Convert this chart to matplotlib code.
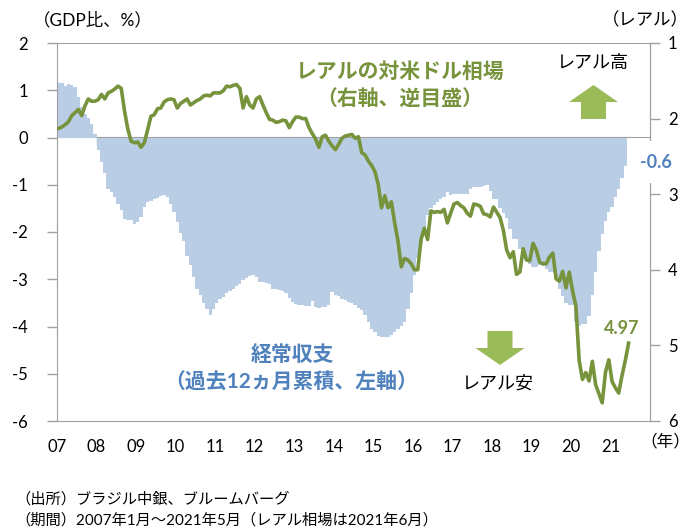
import numpy as np
import matplotlib.pyplot as plt
from matplotlib.patches import FancyArrow

plt.rcParams['font.family'] = ['Lato', 'Noto Sans CJK JP']
plt.rcParams['axes.unicode_minus'] = False

# current account, % of GDP, 12-month sum (2007-01 .. 2021-05)
ca_2007 = [1.16, 1.15, 1.10, 1.14, 1.12, 1.06, 0.85, 0.65, 0.50, 0.42, 0.28, 0.08]
ca_2008 = [-0.27, -0.52, -0.76, -1.08, -1.16, -1.25, -1.40, -1.54, -1.72, -1.74, -1.75, -1.84]
ca_2009 = [-1.79, -1.69, -1.47, -1.37, -1.35, -1.30, -1.28, -1.23, -1.22, -1.26, -1.40, -1.58]
ca_2010 = [-1.79, -2.03, -2.20, -2.50, -2.70, -2.96, -3.20, -3.34, -3.50, -3.62, -3.75, -3.62]
ca_2011 = [-3.51, -3.41, -3.37, -3.30, -3.25, -3.20, -3.15, -3.09, -3.02, -2.98, -2.94, -2.92]
ca_2012 = [-2.95, -3.06, -3.06, -3.08, -3.10, -3.20, -3.20, -3.22, -3.25, -3.30, -3.40, -3.48]
ca_2013 = [-3.52, -3.55, -3.55, -3.56, -3.56, -3.45, -3.58, -3.60, -3.59, -3.58, -3.55, -3.28]
ca_2014 = [-3.34, -3.36, -3.41, -3.43, -3.48, -3.50, -3.55, -3.60, -3.66, -3.75, -3.90, -4.05]
ca_2015 = [-4.12, -4.20, -4.22, -4.22, -4.22, -4.18, -4.12, -4.06, -3.98, -3.90, -3.62, -3.30]
ca_2016 = [-2.90, -2.55, -2.25, -1.95, -1.65, -1.50, -1.42, -1.37, -1.30, -1.26, -1.15, -1.22]
ca_2017 = [-1.20, -1.20, -1.20, -1.20, -1.20, -1.10, -1.05, -1.05, -1.05, -1.02, -1.00, -1.13]
ca_2018 = [-1.30, -1.30, -1.50, -1.60, -1.70, -1.93, -2.14, -2.14, -2.35, -2.53, -2.53, -2.67]
ca_2019 = [-2.74, -2.74, -2.70, -2.72, -2.78, -2.85, -2.85, -3.00, -3.20, -3.35, -3.50, -3.55]
ca_2020 = [-3.55, -3.90, -3.98, -3.95, -3.95, -3.77, -3.34, -2.85, -2.40, -2.05, -1.76, -1.58]
ca_2021 = [-1.47, -1.26, -1.08, -0.85, -0.60]

# BRL per USD, month end (2007-01 .. 2021-06)
brl_2007 = [2.13, 2.11, 2.08, 2.04, 1.96, 1.92, 1.88, 1.96, 1.83, 1.74, 1.77, 1.77]
brl_2008 = [1.75, 1.68, 1.74, 1.66, 1.64, 1.61, 1.57, 1.60, 1.90, 2.14, 2.30, 2.32]
brl_2009 = [2.31, 2.38, 2.32, 2.15, 1.97, 1.95, 1.87, 1.86, 1.78, 1.75, 1.74, 1.75]
brl_2010 = [1.86, 1.80, 1.77, 1.74, 1.82, 1.79, 1.76, 1.74, 1.70, 1.69, 1.70, 1.66]
brl_2011 = [1.66, 1.66, 1.63, 1.57, 1.58, 1.56, 1.55, 1.60, 1.86, 1.71, 1.82, 1.86]
brl_2012 = [1.74, 1.71, 1.82, 1.92, 2.01, 2.02, 2.05, 2.04, 2.02, 2.03, 2.12, 2.04]
brl_2013 = [1.98, 1.98, 2.00, 2.00, 2.12, 2.20, 2.27, 2.38, 2.24, 2.22, 2.30, 2.36]
brl_2014 = [2.41, 2.34, 2.26, 2.23, 2.22, 2.21, 2.26, 2.24, 2.45, 2.48, 2.56, 2.62]
brl_2015 = [2.70, 2.87, 3.18, 3.02, 3.18, 3.10, 3.38, 3.62, 3.96, 3.85, 3.87, 3.92]
brl_2016 = [4.00, 4.00, 3.60, 3.45, 3.60, 3.22, 3.24, 3.23, 3.24, 3.20, 3.38, 3.25]
brl_2017 = [3.13, 3.11, 3.15, 3.18, 3.25, 3.29, 3.13, 3.14, 3.16, 3.26, 3.27, 3.30]
brl_2018 = [3.17, 3.24, 3.31, 3.48, 3.74, 3.84, 3.76, 4.06, 4.03, 3.72, 3.87, 3.88]
brl_2019 = [3.65, 3.74, 3.90, 3.92, 3.92, 3.83, 3.78, 4.12, 4.15, 4.02, 4.24, 4.03]
brl_2020 = [4.28, 4.48, 5.20, 5.45, 5.36, 5.47, 5.21, 5.52, 5.64, 5.76, 5.35, 5.19]
brl_2021 = [5.48, 5.56, 5.63, 5.40, 5.20, 4.97]

current_account = np.concatenate([ca_2007, ca_2008, ca_2009, ca_2010, ca_2011, ca_2012, ca_2013,
                                  ca_2014, ca_2015, ca_2016, ca_2017, ca_2018, ca_2019, ca_2020, ca_2021])
brl = np.concatenate([brl_2007, brl_2008, brl_2009, brl_2010, brl_2011, brl_2012, brl_2013,
                      brl_2014, brl_2015, brl_2016, brl_2017, brl_2018, brl_2019, brl_2020, brl_2021])

ca_edges = 2007 + np.arange(len(current_account) + 1) / 12
brl_x = 2007 + (np.arange(len(brl)) + 0.5) / 12

years = np.arange(2007, 2022)
year_labels = ['%02d' % (y % 100) for y in years]

area_color = '#b9cde5'
line_color = '#77933c'
arrow_color = '#9bbb59'
blue = '#4f81bd'
axis_gray = '#a0a0a0'

fig = plt.figure(figsize=(6.93, 5.31), dpi=100)
ax = fig.add_axes([57 / 693, 1 - 421 / 531, 593 / 693, 378 / 531])
ax2 = ax.twinx()

ax.stairs(current_account, ca_edges, baseline=0, fill=True, color=area_color, lw=0)
ax2.plot(brl_x, brl, color=line_color, lw=2.6, solid_joinstyle='round')

ax.set_xlim(2007, 2022)
ax.set_ylim(-6, 2)
ax.set_yticks(range(-6, 3))
ax.set_yticklabels([str(v) for v in range(-6, 3)])
ax.set_xticks(years)
ax.set_xticklabels(year_labels)
ax.tick_params(axis='x', length=0, pad=13, labelsize=12)
ax.tick_params(axis='y', direction='out', length=7, width=1, color=axis_gray, pad=14, labelsize=12)
for s in ax.spines.values():
    s.set_color(axis_gray)

ax2.set_ylim(6, 1)
ax2.set_yticks(range(1, 7))
ax2.tick_params(axis='y', direction='out', length=7, width=1, color=axis_gray, pad=6, labelsize=12)
for s in ax2.spines.values():
    s.set_visible(False)
ax2.spines['right'].set_visible(True)
ax2.spines['right'].set_color(axis_gray)

# horizontal axis line at 0 with year ticks
zero_axis = ax.secondary_xaxis(0.75)
zero_axis.set_xticks(years[1:])
zero_axis.set_xticklabels([])
zero_axis.tick_params(direction='in', length=6, width=1, color=axis_gray)
zero_axis.spines['top'].set_color(axis_gray)

def px(x, y):
    return x / 693, 1 - y / 531

fig.text(*px(33, 20), '（GDP比、%）', ha='left', va='center', fontsize=12.5)
fig.text(*px(689, 20), '（レアル）', ha='right', va='center', fontsize=12.5)
fig.text(*px(690, 441), '（年）', ha='right', va='center', fontsize=12)

fig.text(*px(400, 72), 'レアルの対米ドル相場', ha='center', va='center', fontsize=15,
         fontweight='bold', color=line_color)
fig.text(*px(400, 100), '（右軸、逆目盛）', ha='center', va='center', fontsize=15,
         fontweight='bold', color=line_color)
fig.text(*px(292, 355), '経常収支', ha='center', va='center', fontsize=15,
         fontweight='bold', color=blue)
fig.text(*px(291, 383), '（過去12ヵ月累積、左軸）', ha='center', va='center', fontsize=15,
         fontweight='bold', color=blue)

fig.text(*px(593, 63), 'レアル高', ha='center', va='center', fontsize=13)
fig.text(*px(498, 383), 'レアル安', ha='center', va='center', fontsize=13)

fig.text(*px(656, 162), '-0.6', ha='center', va='center', fontsize=13, fontweight='bold',
         color=blue, bbox=dict(boxstyle='square,pad=0.7', fc='white', ec='none'))
fig.text(*px(622, 328), '4.97', ha='center', va='center', fontsize=13, fontweight='bold',
         color=line_color)

# arrows (in inches from bottom-left)
fig.patches.append(FancyArrow(5.935, (531 - 119) / 100, 0, 0.34, width=0.25, head_width=0.49,
                              head_length=0.17, length_includes_head=True, color=arrow_color,
                              lw=0, transform=fig.dpi_scale_trans))
fig.patches.append(FancyArrow(5.0, (531 - 331) / 100, 0, -0.34, width=0.25, head_width=0.49,
                              head_length=0.17, length_includes_head=True, color=arrow_color,
                              lw=0, transform=fig.dpi_scale_trans))

fig.text(*px(15, 499), '（出所）ブラジル中銀、ブルームバーグ', ha='left', va='center', fontsize=11)
fig.text(*px(15, 520), '（期間）2007年1月～2021年5月（レアル相場は2021年6月）', ha='left',
         va='center', fontsize=11)

fig.savefig('out.png', dpi=100)
